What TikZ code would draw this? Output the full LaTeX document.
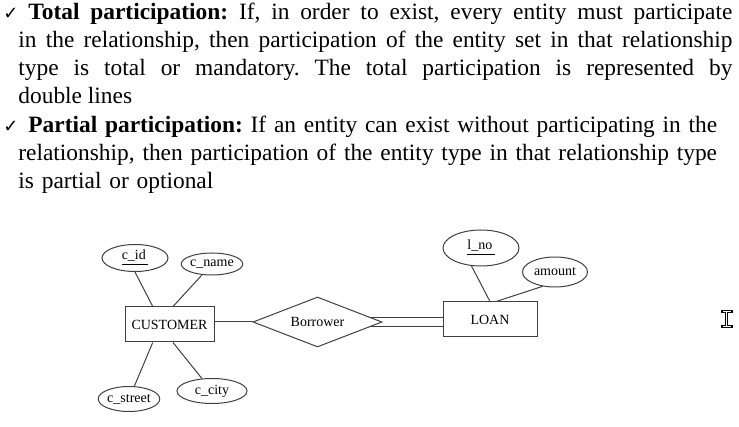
\documentclass[tikz,border=0pt]{standalone}
\usepackage{fontspec}
\setmainfont{Liberation Serif}
\newfontfamily\chkfont{DejaVu Sans}
\usetikzlibrary{shapes.geometric, backgrounds}
\tikzset{
  para/.style={text width=357pt, inner sep=0pt, font=\fontsize{11.7}{14}\selectfont\frenchspacing},
  ent/.style={draw=black!75, fill=white, line width=0.5pt, minimum height=17.5pt, inner sep=0pt, font=\fontsize{7}{8}\selectfont},
  attr/.style={ellipse, draw=black!75, fill=white, line width=0.5pt, inner sep=0pt, font=\fontsize{7}{8}\selectfont},
  rel/.style={diamond, aspect=2.6, draw=black!75, fill=white, line width=0.5pt, inner sep=0pt,
              minimum width=64.5pt, minimum height=25pt, font=\fontsize{7}{8}\selectfont},
  conn/.style={draw=black!75, line width=0.5pt},
  total/.style={conn, double, double distance=4pt},
}
\newcommand{\chk}{\noindent\hspace*{-7.5pt}\makebox[12.5pt][l]{\chkfont\fontsize{9}{9}\selectfont ✓}}

\begin{document}
\begin{tikzpicture}[x=0.5pt, y=-0.5pt]
  \useasboundingbox (0,0) rectangle (739,427);
  % the two bullet paragraphs
  \node[para, align=justify, anchor=base west] (tot) at (18,20) {\hyphenpenalty=10000\chk\textbf{Total participation:} If, in order to exist, every entity must participate\linebreak in the relationship, then participation of the entity set in that relationship\linebreak type is total or mandatory. The total participation is represented by\linebreak double lines};
  \node[para, anchor=base west] (par) at (18,133) {\hyphenpenalty=10000\chk\textbf{Partial participation:} If an entity can exist without participating in the\newline relationship, then participation of the entity type in that relationship type\newline is partial or optional};
  % E-R diagram
  \node[ent, minimum width=44.5pt] (cust) at (169.5,324.5) {CUSTOMER};
  \node[rel] (borrow) at (317.5,322) {Borrower};
  \node[ent, minimum width=47pt] (loan) at (490,319.5) {LOAN};
  \foreach \n/\t/\x/\y/\w/\h in {cid/{\underline{c\_id\,}}/135/258/33/13.5, cname/{c\_name}/212/264/30.5/11,
      cstreet/{c\_street}/129/399/29/12.5, ccity/{c\_city}/212/391/35/12.5,
      lno/{\underline{l\_no\,}}/481/248/38/18, amount/{amount}/555/272/32.5/15} {
    \node[attr, minimum width=\w pt, minimum height=\h pt] (\n) at (\x,\y) {\t};
  }
  \foreach \a/\b in {cid.south/cust.133, cname/cust.79, cust.227/cstreet, cust.281/ccity, lno.242/loan.north, amount.229/loan.71}
    \draw[conn] (\a) -- (\b);
  \draw[conn] (borrow.west) -- (borrow.west -| cust.east);
  \begin{scope}[on background layer]
    \draw[total] (borrow.center) -- (borrow.center -| loan.west);
  \end{scope}
  % text cursor
  \draw[line width=1.5pt, line cap=rect] (722,312) -- (731,312) (726.5,312) -- (726.5,327) (722,327) -- (731,327);
  \draw[white, line width=0.5pt] (722.5,312) -- (730.5,312) (726.5,312) -- (726.5,327) (722.5,327) -- (730.5,327);
\end{tikzpicture}
\end{document}
